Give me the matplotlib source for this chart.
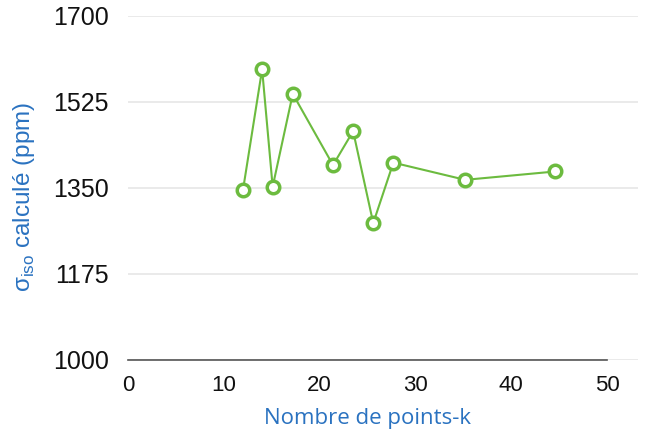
import matplotlib
matplotlib.use('Agg')
import matplotlib.pyplot as plt

# data
k_points = [12, 14, 15.1, 17.2, 21.4, 23.5, 25.6, 27.7, 35.2, 44.6]
sigma_iso = [1345, 1591, 1352, 1541, 1396, 1465, 1278, 1401, 1366, 1383]
x_ticks = [0, 10, 20, 30, 40, 50]
y_ticks = [1000, 1175, 1350, 1525, 1700]

plt.rcParams['font.family'] = ['Liberation Sans', 'DejaVu Sans']
plt.rcParams['mathtext.fontset'] = 'custom'
plt.rcParams['mathtext.rm'] = 'Liberation Sans'

green = '#6cbb3f'
blue = '#2a72c0'

fig = plt.figure(figsize=(6.55, 4.43), dpi=100)
ax = fig.add_axes([128/655, 1 - 359.7/443, 510/655, 344/443])

ax.plot(k_points, sigma_iso, color=green, lw=1.5, marker='o', ms=9,
        mfc='white', mec=green, mew=2.5, zorder=3)

ax.set_xlim(0, 50 * 510/479)
ax.set_ylim(1000, 1700)
ax.set_xticks(x_ticks)
ax.set_yticks(y_ticks)
ax.grid(axis='y', color='#e6e6e6', lw=1.2)
ax.set_axisbelow(True)

for s in ['top', 'right', 'left']:
    ax.spines[s].set_visible(False)
ax.spines['bottom'].set_bounds(0, 50)
ax.spines['bottom'].set_color('#555555')
ax.spines['bottom'].set_linewidth(1.2)
ax.tick_params(length=0, colors='#111111')
ax.tick_params(axis='y', pad=14, labelsize=18)
ax.tick_params(axis='x', pad=11, labelsize=16)

ax.set_xlabel('Nombre de points-k', color=blue, fontsize=16,
              family=['Open Sans', 'DejaVu Sans'], va='center')
ax.xaxis.set_label_coords(0.47, -0.17)
ax.set_ylabel('σ$_{\\rm iso}$ calculé (ppm)', color=blue, fontsize=17.5,
              va='center', ha='center')
ax.yaxis.set_label_coords(-0.204, 0.473)

fig.savefig('out.png', dpi=100)
